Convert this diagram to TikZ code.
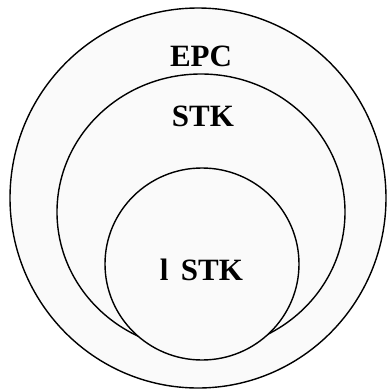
\documentclass[tikz,border=0pt]{standalone}
\usepackage{fontspec}
\setmainfont{Liberation Serif}
\usetikzlibrary{positioning}
\tikzset{
ring/.style={draw=black, line width=1.4pt, fill=gray!4},
tag/.style={font=\fontsize{31}{33}\selectfont\bfseries, inner sep=0pt, anchor=base},
}

\begin{document}
\begin{tikzpicture}[x=1pt, y=-1pt]
    \useasboundingbox (0,0) rectangle (387,389);
    \fill[white] (0,0) rectangle (387,389);
    \coordinate (cEPC) at (198,198);
    \coordinate (cSTK) at (201,212);
    \coordinate (cOne) at (202,264);
    \draw[ring] (cEPC) ellipse [x radius=188, y radius=190];
    \draw[ring] (cSTK) ellipse [x radius=144, y radius=138];
    \draw[ring] (cOne) ellipse [x radius=97, y radius=96];
    \node[tag] (epc) at (201,66.5) {EPC};
    \node[tag] (stk) at (203,126) {STK};
    \node[tag] (one) at (201.5,280) {l\hspace{0.4em}STK};
\end{tikzpicture}
\end{document}
